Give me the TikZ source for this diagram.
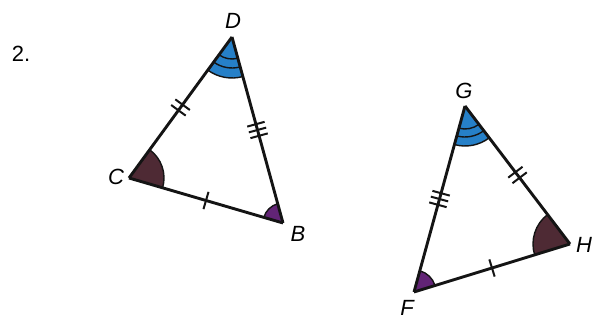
\documentclass[tikz,border=0pt]{standalone}
\usepackage{fontspec}
\setmainfont{Liberation Sans}
\usetikzlibrary{decorations.markings,calc}
\definecolor{angblue}{RGB}{38,128,200}
\definecolor{angmaroon}{RGB}{78,42,52}
\definecolor{angpurple}{RGB}{98,36,118}
\definecolor{inkc}{RGB}{20,20,20}
\tikzset{
  side/.style={draw=inkc, line width=2.9pt, line join=round},
  lbl/.style={font=\fontsize{22}{26}\selectfont\itshape, inner sep=0pt},
  sector/.style={draw=inkc, line width=1.4pt},
  tickone/.style={postaction={decorate}, decoration={markings, mark=at position 0.5 with {\draw[inkc, line width=2pt] (0,-9) -- (0,9);}}},
  ticktwo/.style={postaction={decorate}, decoration={markings, mark=at position 0.5 with {\draw[inkc, line width=2pt] (-3.5,-9) -- (-3.5,9) (3.5,-9) -- (3.5,9);}}},
  tickthree/.style={postaction={decorate}, decoration={markings, mark=at position 0.5 with {\draw[inkc, line width=2pt] (-6,-9) -- (-6,9) (0,-9) -- (0,9) (6,-9) -- (6,9);}}},
}
\begin{document}
\begin{tikzpicture}[x=1pt,y=-1pt]
\useasboundingbox (0,0) rectangle (597,323);
% vertices (image coordinates, y downwards)
\coordinate (D) at (232,37);
\coordinate (C) at (129,178);
\coordinate (B) at (283,223);
\coordinate (G) at (465,106);
\coordinate (F) at (414,292);
\coordinate (H) at (570,244);
% angle sectors triangle 1 (angles measured with y downwards)
\fill[angblue] (D) -- ++(-233.85:41) arc[start angle=-233.85, end angle=-285.33, radius=41] -- cycle;
\draw[sector] ($(D)+(-233.85:41)$) arc[start angle=-233.85, end angle=-285.33, radius=41];
\draw[sector] ($(D)+(-233.85:31)$) arc[start angle=-233.85, end angle=-285.33, radius=31];
\draw[sector] ($(D)+(-233.85:22)$) arc[start angle=-233.85, end angle=-285.33, radius=22];
\fill[angmaroon] (C) -- ++(16.29:35) arc[start angle=16.29, end angle=-53.85, radius=35] -- cycle;
\draw[sector] ($(C)+(16.29:35)$) arc[start angle=16.29, end angle=-53.85, radius=35];
\fill[angpurple] (B) -- ++(-105.33:20) arc[start angle=-105.33, end angle=-163.71, radius=20] -- cycle;
\draw[sector] ($(B)+(-105.33:20)$) arc[start angle=-105.33, end angle=-163.71, radius=20];
% angle sectors triangle 2
\fill[angblue] (G) -- ++(-254.67:40) arc[start angle=-254.67, end angle=-307.27, radius=40] -- cycle;
\draw[sector] ($(G)+(-254.67:40)$) arc[start angle=-254.67, end angle=-307.27, radius=40];
\draw[sector] ($(G)+(-254.67:31)$) arc[start angle=-254.67, end angle=-307.27, radius=31];
\draw[sector] ($(G)+(-254.67:23)$) arc[start angle=-254.67, end angle=-307.27, radius=23];
\fill[angmaroon] (H) -- ++(-127.27:37) arc[start angle=-127.27, end angle=-197.10, radius=37] -- cycle;
\draw[sector] ($(H)+(-127.27:37)$) arc[start angle=-127.27, end angle=-197.10, radius=37];
\fill[angpurple] (F) -- ++(-17.10:22) arc[start angle=-17.10, end angle=-74.67, radius=22] -- cycle;
\draw[sector] ($(F)+(-17.10:22)$) arc[start angle=-17.10, end angle=-74.67, radius=22];
% sides
\draw[side, ticktwo] (C) -- (D);
\draw[side, tickthree] (D) -- (B);
\draw[side, tickone] (C) -- (B);
\draw[side, ticktwo] (G) -- (H);
\draw[side, tickthree] (F) -- (G);
\draw[side, tickone] (F) -- (H);
% labels
\node[lbl, font=\fontsize{22}{26}\selectfont] (n2) at (21,54) {2.};
\node[lbl] (lD) at (233,21) {D};
\node[lbl] (lC) at (116,177) {C};
\node[lbl] (lB) at (298,234) {B};
\node[lbl] (lG) at (464,91) {G};
\node[lbl] (lH) at (584,245) {H};
\node[lbl] (lF) at (407,308) {F};
\end{tikzpicture}
\end{document}
